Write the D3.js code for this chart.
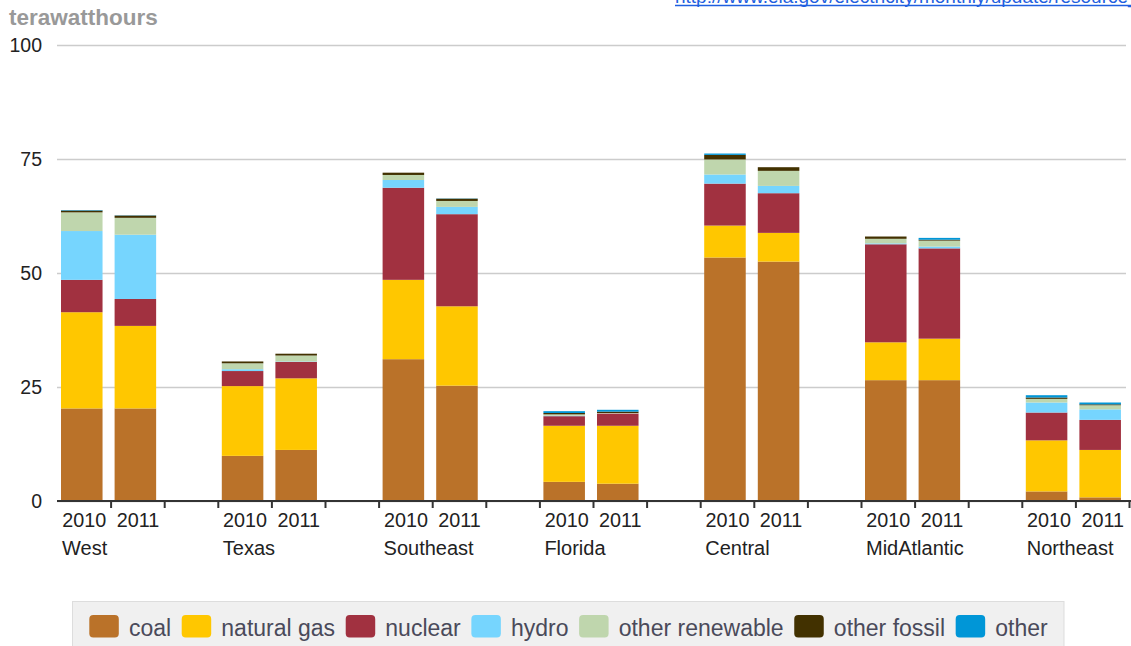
<!DOCTYPE html>
<html><head><meta charset="utf-8">
<script src="https://cdn.jsdelivr.net/npm/d3@7"></script>
<style>html,body{margin:0;padding:0;background:#fff;overflow:hidden}svg{display:block;font-family:Arial,"Liberation Sans",sans-serif}</style>
</head><body><svg id="c" width="1131" height="646"></svg>
<script>
const regions = ["West","Texas","Southeast","Florida","Central","MidAtlantic","Northeast"];
const years = ["2010","2011"];
const seriesNames = ["coal","natural gas","nuclear","hydro","other renewable","other fossil","other"];
const seriesColors = ["#ba7229","#ffc700","#a13140","#76d5fe","#bfd6ad","#423100","#0096d7"];
// values in order: West10, West11, Texas10, Texas11, ... Northeast10, Northeast11
const coal        = [20.3,20.3, 9.9,11.2, 31.1,25.3, 4.2,3.8, 53.4,52.5, 26.5,26.5, 2.1,0.8];
const naturalGas  = [21.1,18.1, 15.3,15.7, 17.4,17.4, 12.3,12.7, 7.0,6.3, 8.3,9.1, 11.2,10.4];
const nuclear     = [7.1,5.9, 3.3,3.6, 20.2,20.2, 2.1,2.7, 9.2,8.7, 21.5,19.8, 6.1,6.6];
const hydro       = [10.7,14.1, 0.4,0.1, 1.7,1.6, 0.1,0.0, 2.0,1.6, 0.2,0.4, 2.2,2.3];
const otherRenew  = [4.1,3.7, 1.3,1.3, 1.1,1.3, 0.3,0.1, 3.3,3.3, 1.0,1.3, 0.8,0.9];
const otherFossil = [0.4,0.5, 0.4,0.4, 0.5,0.5, 0.3,0.3, 1.0,0.8, 0.5,0.2, 0.3,0.2];
const other       = [0.1,0.05, 0,0, 0,0.05, 0.4,0.4, 0.3,0, 0,0.4, 0.5,0.4];
const yTicks = [0,25,50,75,100];
const yTitle = "terawatthours";
const sourceLink = "http://www.eia.gov/electricity/monthly/update/resource_use.cfm";

const seriesValues = [coal,naturalGas,nuclear,hydro,otherRenew,otherFossil,other];

const svg = d3.select("#c");
const W = 1131, H = 646;
const x0 = 57, x1 = 1129, yBase = 501, yTop = 45;

// slot keys: region|year plus blank separators
const slots = [];
regions.forEach((r,i)=>{ years.forEach(y=>slots.push(r+"|"+y)); if(i<regions.length-1) slots.push("gap"+i); });
const xb = d3.scaleBand().domain(slots).range([x0,x1]).padding(0);
const xl = d3.scaleLinear().domain([0,slots.length]).range([x0,x1]);
const y = d3.scaleLinear().domain([0,100]).range([yBase,yTop]);

// link at top (clipped, as in the original)
svg.append("text").attr("x",675).attr("y",3).attr("fill","#1f5fe0").attr("font-size",19).text(sourceLink);
svg.append("line").attr("x1",675).attr("x2",W).attr("y1",5.5).attr("y2",5.5).attr("stroke","#1f5fe0").attr("stroke-width",1.5);

// y title
svg.append("text").attr("x",9).attr("y",25).attr("fill","#999").attr("font-weight","bold").attr("font-size",22.5).text(yTitle);

// gridlines + y labels
const yAxis = d3.axisLeft(y).tickValues(yTicks).tickSize(-(1126-x0)).tickPadding(15);
const gy = svg.append("g").attr("transform",`translate(${x0},0)`).call(yAxis);
gy.select(".domain").remove();
gy.selectAll(".tick line").attr("stroke","#ccc").attr("stroke-width",1.6);
gy.selectAll(".tick text").attr("font-size",19.5).attr("fill","#222").attr("font-family","Arial, 'Liberation Sans', sans-serif");

// stacked data
const rows = [];
regions.forEach((r,ri)=>years.forEach((yr,yi)=>{
  const idx = ri*2+yi; const row = {key:r+"|"+yr};
  seriesNames.forEach((s,si)=>row[s]=seriesValues[si][idx]);
  rows.push(row);
}));
const stack = d3.stack().keys(seriesNames)(rows);
const bw = xb.bandwidth()*0.775;
svg.append("g").selectAll("g").data(stack).join("g")
  .attr("fill",(d,i)=>seriesColors[i])
  .selectAll("rect").data(d=>d).join("rect")
  .attr("x",d=>xb(d.data.key)+4)
  .attr("width",bw)
  .attr("y",d=>y(d[1]))
  .attr("height",d=>Math.max(0,y(d[0])-y(d[1])));

// x axis
const xAxis = d3.axisBottom(xl).tickValues(d3.range(1,slots.length+1)).tickSize(7).tickFormat("");
const gx = svg.append("g").attr("transform",`translate(0,${yBase})`).call(xAxis);
gx.select(".domain").attr("d",`M${x0},0H${W}`).attr("stroke","#333").attr("stroke-width",2);
gx.selectAll(".tick line").attr("stroke","#333").attr("stroke-width",2);

// year labels & region labels
const lab = svg.append("g").attr("fill","#222");
regions.forEach(r=>{
  years.forEach(yr=>{
    lab.append("text").attr("x",xb(r+"|"+yr)+xb.bandwidth()/2+0.5).attr("y",526.5)
      .attr("font-size",19.8).attr("text-anchor","middle").text(yr);
  });
  lab.append("text").attr("x",xb(r+"|"+years[0])+5).attr("y",555).attr("font-size",20).text(r);
});

// legend
const lg = svg.append("g");
lg.append("rect").attr("x",72.5).attr("y",601.5).attr("width",991.5).attr("height",60).attr("fill","#f0f0f0").attr("stroke","#ddd");
let lx = 89.3;
seriesNames.forEach((s,i)=>{
  lg.append("rect").attr("x",lx).attr("y",615).attr("width",29.5).attr("height",22.5).attr("rx",4).attr("fill",seriesColors[i]);
  const t = lg.append("text").attr("x",lx+39.6).attr("y",636).attr("font-size",23).attr("fill","#4a4a5a").text(s);
  lx = lx+39.6+t.node().getComputedTextLength()+10.6;
});
</script></body></html>
